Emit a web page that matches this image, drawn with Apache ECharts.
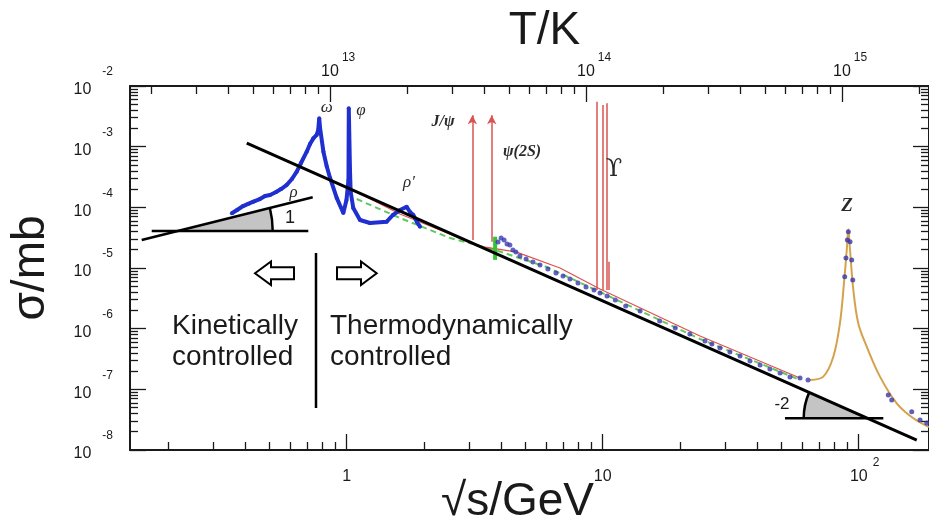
<!DOCTYPE html>
<html>
<head>
<meta charset="utf-8">
<script src="https://cdn.jsdelivr.net/npm/echarts@6/dist/echarts.min.js"></script>
<style>
  html, body { margin: 0; padding: 0; background: #fff; }
  #chart { width: 929px; height: 524px; }
</style>
</head>
<body>
<div id="chart"></div>
<script>
// sigma(e+e- -> hadrons) in mb against sqrt(s) in GeV
const lowEnergy = [0.356, 0.373, 0.394, 0.412, 0.432, 0.458, 0.480, 0.502, 0.530, 0.554, 0.582, 0.611, 0.638, 0.663,
  0.698, 0.719, 0.741, 0.763, 0.774, 0.781, 0.787, 0.811, 0.835, 0.861, 0.914, 0.970, 0.998, 1.016, 1.019, 1.030,
  1.036, 1.061, 1.127, 1.233, 1.433, 1.517, 1.615, 1.715, 1.767, 1.820, 1.882, 1.933];
const lowSigma = [7.98e-5, 9.03e-5, 1.05e-4, 1.14e-4, 1.24e-4, 1.37e-4, 1.54e-4, 1.60e-4, 1.79e-4, 2.00e-4, 2.33e-4,
  2.93e-4, 3.87e-4, 5.38e-4, 8.26e-4, 1.11e-3, 1.37e-3, 1.56e-3, 1.88e-3, 2.94e-3, 2.03e-3, 8.26e-4, 4.80e-4, 3.05e-4,
  1.43e-4, 8.07e-5, 1.32e-4, 2.82e-4, 4.28e-3, 4.12e-4, 1.81e-4, 9.75e-5, 6.18e-5, 5.52e-5, 5.80e-5, 7.48e-5, 9.03e-5,
  1.02e-4, 8.38e-5, 7.48e-5, 5.73e-5, 4.80e-5];

const highEnergy = [3.90, 4.01, 4.12, 4.23, 4.34, 4.46, 4.58, 4.75, 5.02, 5.34, 5.69, 6.11, 6.57, 7.00, 7.45, 8.01,
  8.61, 9.25, 9.76, 10.4, 11.2, 12.3, 14.0, 16.7, 19.2, 21.9, 25.1, 26.7, 28.7, 31.4, 34.4, 37.6, 41.2, 45.0, 49.3,
  53.9, 59.0, 63.4];
const highSigma = [2.68e-5, 3.13e-5, 2.90e-5, 2.49e-5, 2.39e-5, 1.98e-5, 1.84e-5, 1.58e-5, 1.41e-5, 1.26e-5, 1.12e-5,
  9.64e-6, 8.28e-6, 7.38e-6, 6.59e-6, 5.66e-6, 4.86e-6, 4.34e-6, 3.87e-6, 3.45e-6, 2.97e-6, 2.37e-6, 1.95e-6, 1.34e-6,
  1.03e-6, 8.17e-7, 6.27e-7, 5.58e-7, 4.81e-7, 4.13e-7, 3.55e-7, 2.93e-7, 2.52e-7, 2.16e-7, 1.86e-7, 1.60e-7,
  1.54e-7, 1.43e-7];

const zCurveEnergy = [64.5, 72.7, 79.6, 84.5, 87.6, 89.8, 91.1, 92.5, 95.3, 99.6, 107.5, 121.1, 140.8, 163.5, 188.2];
const zCurveSigma = [1.43e-7, 1.62e-7, 3.45e-7, 1.24e-6, 5.66e-6, 1.98e-5, 4.34e-5, 1.98e-5, 4.34e-6, 1.23e-6,
  5.05e-7, 1.62e-7, 5.89e-8, 3.33e-8, 2.39e-8];
const zPointEnergy = [91.1, 90.3, 92.5, 89.2, 93.9, 88.2, 94.8, 130.5, 134.6, 161.1, 173.6, 184.4];
const zPointSigma = [3.97e-5, 2.90e-5, 2.72e-5, 1.46e-5, 1.36e-5, 7.19e-6, 6.34e-6, 8.07e-8, 6.67e-8, 4.29e-8,
  3.13e-8, 2.79e-8];

const redEnergy = [1.094, 1.615, 2.53, 3.23, 4.58, 6.81, 9.76, 24.0, 59.0];
const redSigma = [1.79e-4, 7.77e-5, 3.64e-5, 2.31e-5, 1.84e-5, 1.0e-5, 4.51e-6, 7.57e-7, 1.54e-7];
const greenEnergy = [1.094, 1.615, 2.53, 3.80, 6.04, 9.76, 24.0, 59.0];
const greenSigma = [1.37e-4, 6.68e-5, 3.13e-5, 1.98e-5, 1.04e-5, 4.03e-6, 6.76e-7, 1.43e-7];
const psiGreenEnergy = [3.80, 3.80];
const psiGreenSigma = [3.28e-5, 1.36e-5];

// narrow resonances drawn as vertical red lines
const resMass = [3.097, 3.686, 9.46, 10.0, 10.4, 10.6];
const resLow = [2.9e-5, 2.72e-5, 4.35e-6, 4.35e-6, 4.35e-6, 4.35e-6];
const resHigh = [3.3e-3, 3.3e-3, 5.5e-3, 4.87e-3, 5.19e-3, 1.27e-5];
const resArrow = [true, true, false, false, false, false];

// the black -2 slope guide line
const trendEnergy = [0.407, 168.6];
const trendSigma = [1.14e-3, 1.46e-8];

// axes
const energyRange = [0.1424, 188.2];
const sigmaRange = [1e-8, 1e-2];
const kelvinPerGeV = 1.1605e13;
const energyTicks = [1, 10, 100];
const sigmaTicks = [1e-8, 1e-7, 1e-6, 1e-5, 1e-4, 1e-3, 1e-2];
const kelvinTicks = [1e13, 1e14, 1e15];

const lg = Math.log10;
const FONT = 'Liberation Sans';
const SERIF = 'Liberation Serif';
const INK = '#1a1a1a';
const BLUE = '#1f2fd0';

function pairs(xs, ys) { return xs.map((x, i) => [lg(x), lg(ys[i])]); }
function minorTicks(lo, hi) {
  const out = [];
  for (let e = Math.floor(lo); e <= Math.ceil(hi); e++) {
    for (let k = 2; k <= 9; k++) {
      const v = e + lg(k);
      if (v > lo && v < hi) out.push(v);
    }
  }
  return out;
}

const xLo = lg(energyRange[0]), xHi = lg(energyRange[1]);
const tLo = xLo + lg(kelvinPerGeV), tHi = xHi + lg(kelvinPerGeV);
const yLo = lg(sigmaRange[0]), yHi = lg(sigmaRange[1]);

const hidden = { show: false };
const frame = { show: true, onZero: false, lineStyle: { color: INK, width: 2 } };
const noLine = { show: false, onZero: false };
const tickStyle = { color: INK, width: 1.3 };

function majorTick(values) { return { show: true, inside: true, length: 16, lineStyle: tickStyle, customValues: values }; }
function minorTick(values) { return { show: true, inside: true, length: 8, lineStyle: tickStyle, customValues: values }; }

// rich tokens: no explicit lineHeight so the padding sets the token box height
const bottomRich = {
  b: { fontSize: 16, fontFamily: FONT, color: INK, padding: [12, 0, 0, 0], verticalAlign: 'bottom' },
  bs: { fontSize: 16, fontFamily: FONT, color: INK, padding: [12, 0, 0, 12], verticalAlign: 'bottom' },
  s: { fontSize: 12, fontFamily: FONT, color: INK, padding: [0, 0, 16, 5], verticalAlign: 'top' }
};
const topRich = {
  b: { fontSize: 16, fontFamily: FONT, color: INK, padding: [12, 0, 0, 16], verticalAlign: 'bottom' },
  s: { fontSize: 12, fontFamily: FONT, color: INK, padding: [0, 0, 16, 3], verticalAlign: 'top' }
};
const leftRich = {
  b: { fontSize: 16, fontFamily: FONT, color: INK, padding: [0, 0, 8, 0], verticalAlign: 'bottom' },
  s: { fontSize: 12, fontFamily: FONT, color: INK, padding: [0, 0, 28, 11], verticalAlign: 'top' }
};
const titleStyle = { fontSize: 46, fontFamily: FONT, color: INK };

const chart = echarts.init(document.getElementById('chart'));

const resonanceLines = resMass.map((m, i) => [
  { coord: [lg(m), lg(resLow[i])], symbol: 'none' },
  { coord: [lg(m), lg(resHigh[i])], symbol: resArrow[i] ? 'arrow' : 'none', symbolSize: [7, 9] }
]);

function greek(text, x, y, size, bold, family) {
  return {
    type: 'text', x: x, y: y, z: 20,
    style: { text: text, fontSize: size || 17, fontFamily: family || SERIF, fontStyle: family ? 'normal' : 'italic',
      fontWeight: bold ? 'bold' : 'normal', fill: '#2a2a2a', align: 'center', verticalAlign: 'middle' }
  };
}

const option = {
  animation: false,
  backgroundColor: '#fff',
  grid: { left: 130, right: 0, top: 86, bottom: 74, containLabel: false, outerBoundsMode: 'none' },
  xAxis: [
    {
      type: 'value', min: xLo, max: xHi, position: 'bottom',
      axisLine: frame, splitLine: hidden,
      axisTick: majorTick(energyTicks.map(lg)),
      axisLabel: {
        customValues: energyTicks.map(lg), margin: 7,
        formatter: v => {
          const e = Math.round(v);
          if (e === 0) return '{b|1}';
          if (e === 1) return '{b|10}';
          return '{bs|10}{s|' + e + '}';
        },
        rich: bottomRich
      },
      name: '√s/GeV', nameLocation: 'middle', nameGap: 29, nameMoveOverlap: false,
      nameTextStyle: Object.assign({ padding: [0, 24, 0, 0] }, titleStyle)
    },
    {
      type: 'value', min: xLo, max: xHi, position: 'bottom',
      axisLine: noLine, splitLine: hidden, axisLabel: hidden,
      axisTick: minorTick(minorTicks(xLo, xHi))
    },
    {
      type: 'value', min: tLo, max: tHi, position: 'top',
      axisLine: frame, splitLine: hidden,
      axisTick: majorTick(kelvinTicks.map(lg)),
      axisLabel: {
        customValues: kelvinTicks.map(lg), margin: 6,
        formatter: v => '{b|10}{s|' + Math.round(v) + '}',
        rich: topRich
      },
      name: 'T/K', nameLocation: 'middle', nameGap: 32, nameMoveOverlap: false,
      nameTextStyle: Object.assign({ padding: [0, 0, 0, 30] }, titleStyle)
    },
    {
      type: 'value', min: tLo, max: tHi, position: 'top',
      axisLine: noLine, splitLine: hidden, axisLabel: hidden,
      axisTick: minorTick(minorTicks(tLo, tHi))
    }
  ],
  yAxis: [
    {
      type: 'value', min: yLo, max: yHi, position: 'left',
      axisLine: frame, splitLine: hidden,
      axisTick: majorTick(sigmaTicks.map(lg)),
      axisLabel: {
        customValues: sigmaTicks.map(lg), margin: 17,
        formatter: v => '{b|10}{s|' + Math.round(v) + '}',
        rich: leftRich
      },
      name: 'σ/mb', nameLocation: 'middle', nameGap: 76, nameMoveOverlap: false,
      nameTextStyle: titleStyle
    },
    {
      type: 'value', min: yLo, max: yHi, position: 'left',
      axisLine: noLine, splitLine: hidden, axisLabel: hidden,
      axisTick: minorTick(minorTicks(yLo, yHi))
    },
    {
      type: 'value', min: yLo, max: yHi, position: 'right',
      axisLine: frame, splitLine: hidden, axisLabel: hidden,
      axisTick: majorTick(sigmaTicks.map(lg))
    },
    {
      type: 'value', min: yLo, max: yHi, position: 'right',
      axisLine: noLine, splitLine: hidden, axisLabel: hidden,
      axisTick: minorTick(minorTicks(yLo, yHi))
    }
  ],
  series: [
    {
      name: 'resonances', type: 'line', data: [], silent: true,
      markLine: {
        silent: true, animation: false, label: { show: false },
        lineStyle: { color: '#d9534f', width: 1.5, type: 'solid' },
        data: resonanceLines
      }
    },
    {
      name: 'green', type: 'line', data: pairs(greenEnergy, greenSigma), showSymbol: false, z: 3,
      lineStyle: { color: '#5fc85f', width: 2, type: [6, 4] }
    },
    {
      name: 'red', type: 'line', data: pairs(redEnergy, redSigma), showSymbol: false, z: 3,
      lineStyle: { color: '#e0504a', width: 1.2 }
    },
    {
      name: 'psi green', type: 'line', data: pairs(psiGreenEnergy, psiGreenSigma), showSymbol: false, z: 4,
      lineStyle: { color: '#35c435', width: 4 }
    },
    {
      name: 'low energy', type: 'line', data: pairs(lowEnergy, lowSigma), z: 5,
      symbol: 'circle', symbolSize: 4, showSymbol: true,
      itemStyle: { color: BLUE }, lineStyle: { color: BLUE, width: 4 }
    },
    {
      name: 'high energy', type: 'scatter', data: pairs(highEnergy, highSigma), z: 5,
      symbolSize: 5, itemStyle: { color: '#3b3bb0' }
    },
    {
      name: 'Z line', type: 'line', data: pairs(zCurveEnergy, zCurveSigma), showSymbol: false, smooth: 0.35, z: 4,
      lineStyle: { color: '#d4a24c', width: 2 }
    },
    {
      name: 'Z points', type: 'scatter', data: pairs(zPointEnergy, zPointSigma), z: 6,
      symbolSize: 5, itemStyle: { color: '#3737a8' }
    },
    {
      name: 'slope -2', type: 'line', data: pairs(trendEnergy, trendSigma), showSymbol: false, z: 7,
      lineStyle: { color: '#000', width: 3 }
    }
  ],
  graphic: [
    // slope 1 wedge
    { type: 'sector', z: 1, shape: { cx: 177.7, cy: 231, r: 95, r0: 0, startAngle: -0.2447, endAngle: 0, clockwise: true },
      style: { fill: '#c4c4c4' } },
    { type: 'arc', z: 10, shape: { cx: 177.7, cy: 231, r: 95, startAngle: -0.2447, endAngle: 0, clockwise: true },
      style: { stroke: '#000', lineWidth: 2.5, fill: null } },
    { type: 'line', z: 10, shape: { x1: 141.7, y1: 240, x2: 312.7, y2: 197.3 }, style: { stroke: '#000', lineWidth: 2.5 } },
    { type: 'line', z: 10, shape: { x1: 151.7, y1: 231, x2: 308.3, y2: 231 }, style: { stroke: '#000', lineWidth: 2.5 } },
    { type: 'text', z: 20, x: 290, y: 218, style: { text: '1', fontSize: 18, fontFamily: FONT, fill: INK, align: 'center', verticalAlign: 'middle' } },
    // slope -2 wedge
    { type: 'sector', z: 1, shape: { cx: 867.7, cy: 418.3, r: 64, r0: 0, startAngle: Math.PI, endAngle: Math.PI + 0.417, clockwise: true },
      style: { fill: '#c4c4c4' } },
    { type: 'arc', z: 10, shape: { cx: 867.7, cy: 418.3, r: 64, startAngle: Math.PI, endAngle: Math.PI + 0.417, clockwise: true },
      style: { stroke: '#000', lineWidth: 2.5, fill: null } },
    { type: 'line', z: 10, shape: { x1: 785, y1: 418.3, x2: 883.3, y2: 418.3 }, style: { stroke: '#000', lineWidth: 2.5 } },
    { type: 'text', z: 20, x: 782, y: 404, style: { text: '-2', fontSize: 17, fontFamily: FONT, fill: INK, align: 'center', verticalAlign: 'middle' } },
    // divider and arrows
    { type: 'line', z: 10, shape: { x1: 316, y1: 253, x2: 316, y2: 408 }, style: { stroke: '#000', lineWidth: 2.5 } },
    { type: 'polygon', z: 10, shape: { points: [[255, 273.3], [271, 261.5], [271, 267.3], [294, 267.3], [294, 279.3], [271, 279.3], [271, 285]] },
      style: { fill: '#fff', stroke: '#000', lineWidth: 2 } },
    { type: 'polygon', z: 10, shape: { points: [[376.7, 273.3], [361, 261.5], [361, 267.3], [337, 267.3], [337, 279.3], [361, 279.3], [361, 285]] },
      style: { fill: '#fff', stroke: '#000', lineWidth: 2 } },
    { type: 'text', z: 20, x: 172, y: 311, style: { text: 'Kinetically\ncontrolled', fontSize: 28, lineHeight: 31, fontFamily: FONT, fill: INK } },
    { type: 'text', z: 20, x: 330, y: 311, style: { text: 'Thermodynamically\ncontrolled', fontSize: 28, lineHeight: 31, fontFamily: FONT, fill: INK } },
    // resonance labels
    greek('ω', 326.7, 108),
    greek('φ', 361, 111),
    greek('ρ', 293.5, 193),
    greek('ρ′', 409, 183),
    greek('J/ψ', 443, 122, 16, true),
    greek('ψ(2S)', 522, 152, 16, true),
    greek('ϒ', 614, 170, 24, false, 'DejaVu Serif'),
    greek('Z', 847, 206, 19, true)
  ]
};

chart.setOption(option);
</script>
</body>
</html>
